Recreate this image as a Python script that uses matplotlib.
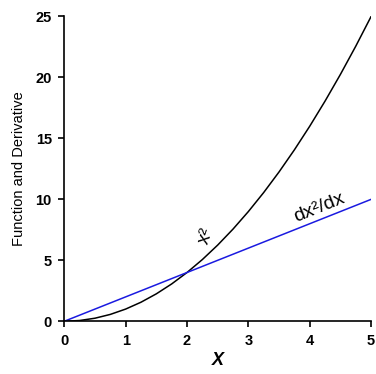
import numpy as np
import matplotlib.pyplot as plt

plt.rcParams['font.family'] = ['Liberation Sans', 'DejaVu Sans']

# x^2 read at steps of 0.25
x_vals = [0.0, 0.25, 0.5, 0.75, 1.0, 1.25, 1.5, 1.75, 2.0, 2.25, 2.5,
          2.75, 3.0, 3.25, 3.5, 3.75, 4.0, 4.25, 4.5, 4.75, 5.0]
func_vals = [0.0, 0.0625, 0.25, 0.5625, 1.0, 1.5625, 2.25, 3.0625, 4.0,
             5.0625, 6.25, 7.5625, 9.0, 10.5625, 12.25, 14.0625, 16.0,
             18.0625, 20.25, 22.5625, 25.0]
# derivative line 2x
deriv_x = [0.0, 5.0]
deriv_vals = [0.0, 10.0]

x_ticks = [0, 1, 2, 3, 4, 5]
y_ticks = [0, 5, 10, 15, 20, 25]

fig = plt.figure(figsize=(3.76, 3.74), dpi=100)
ax = fig.add_axes([0.171, 0.141, 0.816, 0.815])

ax.plot(x_vals, func_vals, color='black', lw=1.1)
ax.plot(deriv_x, deriv_vals, color='#1a1ae0', lw=1.1)

ax.set_xlim(0, 5)
ax.set_ylim(0, 25)
ax.set_xticks(x_ticks)
ax.set_yticks(y_ticks)
ax.spines['top'].set_visible(False)
ax.spines['right'].set_visible(False)
for s in ['left', 'bottom']:
    ax.spines[s].set_linewidth(1.2)
ax.tick_params(direction='out', length=4, width=1.2, labelsize=10.5, pad=5)
for lab in ax.get_xticklabels() + ax.get_yticklabels():
    lab.set_fontweight('bold')

ax.set_xlabel('X', fontsize=13, fontweight='bold', style='italic', labelpad=3)
ax.set_ylabel('Function and Derivative', fontsize=10.5, labelpad=7)

ax.text(2.31, 7.0, 'x²', rotation=72, ha='center', va='center', fontsize=14)
ax.text(4.15, 9.3, 'dx²/dx', rotation=22, ha='center', va='center', fontsize=14)

fig.savefig('out.png', dpi=100)
